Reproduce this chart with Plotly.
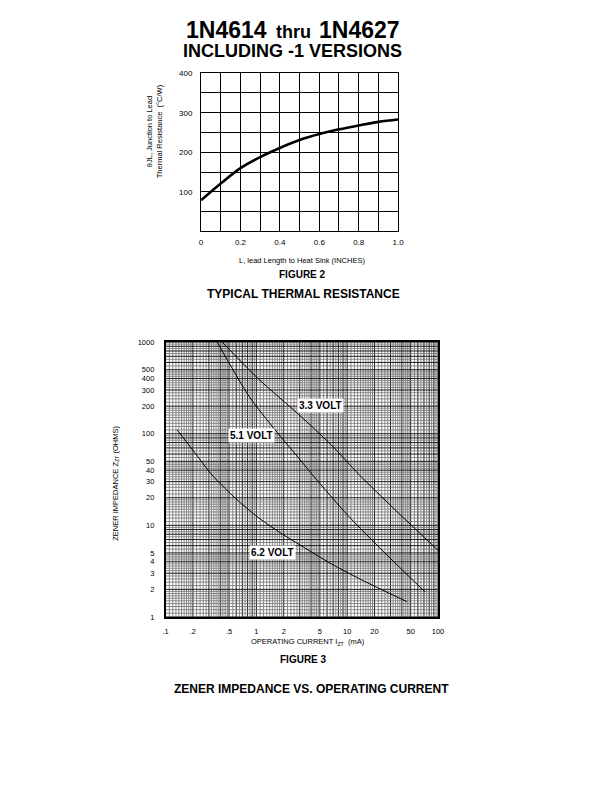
import numpy as np
import plotly.graph_objects as go

W, H = 612, 792
FONT = "Liberation Sans, Arial, Helvetica, sans-serif"

# ---------------- Figure 2 data (thermal resistance vs lead length) ----------------
lead_len = [0, 0.05, 0.1, 0.2, 0.3, 0.4, 0.5, 0.6, 0.7, 0.8, 0.9, 1.0]
theta_jl = [79, 100, 121, 160, 188, 211, 231, 246, 258, 268, 277, 283]

x2_tickvals = [0, 0.2, 0.4, 0.6, 0.8, 1.0]
x2_ticktext = ["0", "0.2", "0.4", "0.6", "0.8", "1.0"]
y2_tickvals = [100, 200, 300, 400]
y2_ticktext = ["100", "200", "300", "400"]

# ---------------- Figure 3 data (zener impedance vs operating current) ----------------
i_33 = [0.42, 1.07, 2.91, 6.69, 13.6, 35.4, 100.0]
z_33 = [1000, 391, 163, 75.2, 35.6, 14.1, 5.35]

i_51 = [0.37, 0.836, 1.50, 2.68, 4.24, 10.2, 25.4, 71.8]
z_51 = [1000, 254, 120, 60.1, 34.7, 12.8, 5.11, 1.88]

i_62 = [0.134, 0.203, 0.334, 0.599, 1.07, 1.92, 3.14, 6.69, 15.4, 45.4]
z_62 = [110, 64.8, 34.4, 19.4, 12.0, 8.05, 5.97, 3.80, 2.46, 1.47]

x3_tickvals = [0.1, 0.2, 0.5, 1, 2, 5, 10, 20, 50, 100]
x3_ticktext = [".1", ".2", ".5", "1", "2", "5", "10", "20", "50", "100"]
y3_tickvals = [1, 2, 3, 4, 5, 10, 20, 30, 40, 50, 100, 200, 300, 400, 500, 1000]
y3_ticktext = [str(v) for v in y3_tickvals]

curve_labels = [("3.3 VOLT", 5.05, 204), ("5.1 VOLT", 0.878, 96.6), ("6.2 VOLT", 1.52, 5.07)]


def pxx(x):
    return x / W


def pxy(y):
    return 1 - y / H


# log-paper grid values
def log_grid(lo_dec, hi_dec):
    minor, major = [], []
    mant = np.concatenate([np.arange(1, 2, 0.1), np.arange(2, 5, 0.2), np.arange(5, 10, 0.5)])
    for d in range(lo_dec, hi_dec):
        base = 10.0 ** d
        for m in mant:
            if abs(m - round(m)) < 1e-9:
                major.append(base * m)
            else:
                minor.append(base * m)
    major.append(10.0 ** hi_dec)
    return minor, major


def lines_vertical(vals, y0, y1):
    xs, ys = [], []
    for v in vals:
        xs += [v, v, None]
        ys += [y0, y1, None]
    return xs, ys


def lines_horizontal(vals, x0, x1):
    xs, ys = [], []
    for v in vals:
        xs += [x0, x1, None]
        ys += [v, v, None]
    return xs, ys


fig = go.Figure()

# ---- Figure 2 curve
fig.add_trace(go.Scatter(x=lead_len, y=theta_jl, mode="lines",
                         line=dict(color="black", width=2.6, shape="spline"),
                         xaxis="x", yaxis="y", showlegend=False, hoverinfo="skip"))

# ---- Figure 3 grid
xmin, xmaj = log_grid(-1, 2)
ymin, ymaj = log_grid(0, 3)
for vals, w, c in [(xmin, 0.8, "#6e6e6e"), (xmaj, 1.0, "#1a1a1a")]:
    gx, gy = lines_vertical(vals, 1, 1000)
    fig.add_trace(go.Scatter(x=gx, y=gy, mode="lines", line=dict(color=c, width=w),
                             xaxis="x2", yaxis="y2", showlegend=False, hoverinfo="skip"))
for vals, w, c in [(ymin, 0.8, "#6e6e6e"), (ymaj, 1.0, "#1a1a1a")]:
    gx, gy = lines_horizontal(vals, 0.1, 100)
    fig.add_trace(go.Scatter(x=gx, y=gy, mode="lines", line=dict(color=c, width=w),
                             xaxis="x2", yaxis="y2", showlegend=False, hoverinfo="skip"))

# ---- Figure 3 curves
for ii, zz in [(i_33, z_33), (i_51, z_51), (i_62, z_62)]:
    fig.add_trace(go.Scatter(x=ii, y=zz, mode="lines",
                             line=dict(color="black", width=1.0, shape="spline", smoothing=0.8),
                             xaxis="x2", yaxis="y2", showlegend=False, hoverinfo="skip"))

tickfont = dict(family=FONT, size=8, color="black")

fig.update_layout(
    width=W, height=H,
    margin=dict(l=0, r=0, t=0, b=0),
    paper_bgcolor="white", plot_bgcolor="white",
    showlegend=False,
    xaxis=dict(domain=[pxx(201), pxx(401)], anchor="y", range=[0, 1],
               tickvals=x2_tickvals, ticktext=x2_ticktext, tickfont=tickfont,
               showgrid=True, gridcolor="black", gridwidth=1.2,
               minor=dict(dtick=0.1, showgrid=True, gridcolor="black", gridwidth=1.2),
               showline=True, mirror=True, linecolor="black", linewidth=1.2,
               ticks="", ticklabelstandoff=3, zeroline=False, fixedrange=True),
    yaxis=dict(domain=[pxy(230), pxy(70)], anchor="x", range=[0, 400],
               tickvals=y2_tickvals, ticktext=y2_ticktext, tickfont=tickfont,
               showgrid=True, gridcolor="black", gridwidth=1.2,
               minor=dict(dtick=50, showgrid=True, gridcolor="black", gridwidth=1.2),
               showline=True, mirror=True, linecolor="black", linewidth=1.2,
               ticks="", ticklabelstandoff=6, zeroline=False, fixedrange=True),
    xaxis2=dict(domain=[pxx(165), pxx(441.5)], anchor="y2", type="log", range=[-1, 2],
                tickvals=x3_tickvals, ticktext=x3_ticktext,
                tickfont=dict(family=FONT, size=7.5, color="black"),
                showgrid=False, showline=True, mirror=True, linecolor="black", linewidth=1.5,
                ticks="", ticklabelstandoff=6, zeroline=False, fixedrange=True),
    yaxis2=dict(domain=[pxy(620), pxy(342)], anchor="x2", type="log", range=[0, 3],
                tickvals=y3_tickvals, ticktext=y3_ticktext,
                tickfont=dict(family=FONT, size=7.5, color="black"),
                showgrid=False, showline=True, mirror=True, linecolor="black", linewidth=1.5,
                ticks="", ticklabelstandoff=8, zeroline=False, fixedrange=True),
)

ann = []


def text(x, y, s, size, bold=False, angle=0):
    ann.append(dict(x=pxx(x), y=pxy(y), xref="paper", yref="paper", text=(f"<b>{s}</b>" if bold else s),
                    showarrow=False, xanchor="center", yanchor="middle", textangle=angle,
                    font=dict(family=FONT, size=size, color="black")))


text(226.5, 26.5, "1N4614", 23, bold=True)
text(294.5, 28, "thru", 18, bold=True)
text(361.5, 26.5, "1N4627", 23, bold=True)
text(294, 48, "INCLUDING -1 VERSIONS", 18, bold=True)

text(154, 129, "θJL, Junction to Lead<br>Thermal Resistance  (°C/W)", 7.5, angle=-90)
text(303, 259, "L, lead Length to Heat Sink (INCHES)", 7.5)
text(304, 274, "FIGURE 2", 10, bold=True)
text(305, 293, "TYPICAL THERMAL RESISTANCE", 12, bold=True)

text(115, 485, "ZENER IMPEDANCE Z<sub>ZT</sub> (OHMS)", 7.5, angle=-90)
text(310, 645, "OPERATING CURRENT I<sub>ZT</sub>  (mA)", 7.5)
text(305, 663, "FIGURE 3", 10, bold=True)
text(313, 693, "ZENER IMPEDANCE VS. OPERATING CURRENT", 12, bold=True)

for lab, xi, zi in curve_labels:
    ann.append(dict(x=np.log10(xi), y=np.log10(zi), xref="x2", yref="y2", text=f"<b>{lab}</b>",
                    showarrow=False, xanchor="center", yanchor="middle", bgcolor="white",
                    borderpad=1, font=dict(family=FONT, size=10, color="black")))

fig.update_layout(annotations=ann)

fig.write_html("out.html", config={"displayModeBar": False},
               post_script="document.body.style.margin='0px';")
